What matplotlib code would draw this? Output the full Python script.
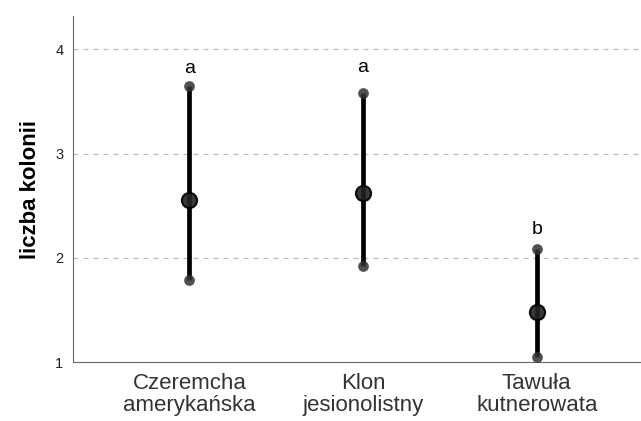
import numpy as np
import matplotlib.pyplot as plt

plt.rcParams["font.family"] = ["Liberation Sans", "DejaVu Sans"]

categories = ["Czeremcha\namerykańska", "Klon\njesionolistny", "Tawuła\nkutnerowata"]
means = [2.55, 2.62, 1.48]
lower = [1.79, 1.92, 1.05]
upper = [3.65, 3.58, 2.08]
letters = ["a", "a", "b"]
letter_y = [3.82, 3.83, 2.27]

fig = plt.figure(figsize=(6.41, 4.21), dpi=100)
ax = fig.add_axes([0.114, 0.14, 0.886, 0.822])

x = np.arange(len(categories))
ax.vlines(x, lower, upper, color="black", linewidth=3.4, zorder=3)
ax.scatter(x, lower, s=60, color="#333333", alpha=0.85, zorder=4, linewidths=0)
ax.scatter(x, upper, s=60, color="#333333", alpha=0.85, zorder=4, linewidths=0)
ax.scatter(x, means, s=120, color="#222222", edgecolors="black", linewidths=1.5, alpha=0.9, zorder=5)

for xi, ly, lab in zip(x, letter_y, letters):
    ax.text(xi, ly, lab, ha="center", va="center", fontsize=14, color="black")

ax.set_xlim(-0.67, 2.6)
ax.set_ylim(1, 4.32)
ax.set_yticks([1, 2, 3, 4])
ax.set_xticks(x)
ax.set_xticklabels(categories, fontsize=16, color="#333333", linespacing=1.05)
ax.tick_params(axis="y", length=0, labelsize=10.5, pad=7, colors="#222222")
ax.tick_params(axis="x", length=0, pad=8)
ax.set_ylabel("liczba kolonii", fontsize=16, fontweight="bold", labelpad=10)

for yv in [2, 3, 4]:
    ax.axhline(yv, color="#bbbbbb", linestyle=(0, (4, 4)), linewidth=0.9, zorder=1)

ax.spines["top"].set_visible(False)
ax.spines["right"].set_visible(False)
ax.spines["left"].set_color("#666666")
ax.spines["bottom"].set_color("#666666")

plt.savefig("out.png", dpi=100)
